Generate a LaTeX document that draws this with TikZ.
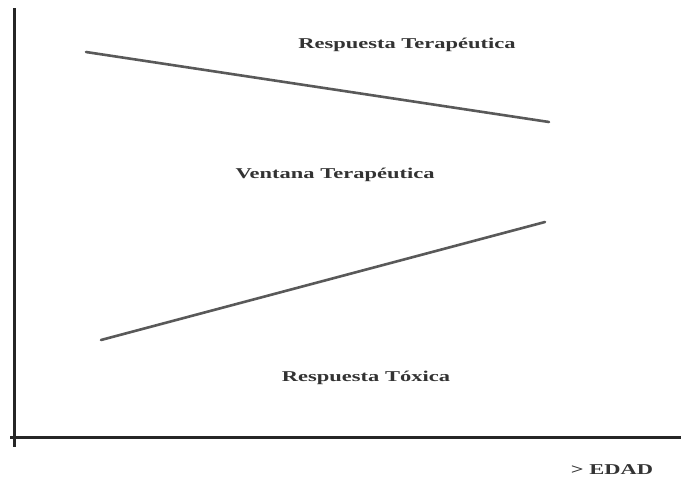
\documentclass[tikz,border=0pt]{standalone}
\usepackage{fontspec}
\setmainfont{Liberation Serif}
\begin{document}
\begin{tikzpicture}[x=1pt,y=-1pt,
  axis/.style={line width=3pt,draw=black!85},
  band/.style={line width=2.6pt,draw=black!65,line cap=round},
  lbl/.style={font=\fontsize{15}{17}\selectfont\bfseries,text=black!80,xscale=1.5,inner sep=0pt}]
\useasboundingbox[fill=white] (0,0) rectangle (681,482);
\coordinate (ytop) at (14.5,8);
\coordinate (ybot) at (14.5,447);
\coordinate (xl) at (10,437.5);
\coordinate (xr) at (681,437.5);
\draw[axis] (ytop) -- (ybot);
\draw[axis] (xl) -- (xr);
\coordinate (u1) at (86,52);
\coordinate (u2) at (549,122);
\coordinate (l1) at (101,340);
\coordinate (l2) at (545,222);
\draw[band] (u1) -- (u2);
\draw[band] (l1) -- (l2);
\node[lbl] (rt) at (407,45) {Respuesta Terapéutica};
\node[lbl] (vt) at (335,175) {Ventana Terapéutica};
\node[lbl] (rx) at (366,378) {Respuesta Tóxica};
\node[lbl] (ed) at (612,470) {> EDAD};
\end{tikzpicture}
\end{document}
